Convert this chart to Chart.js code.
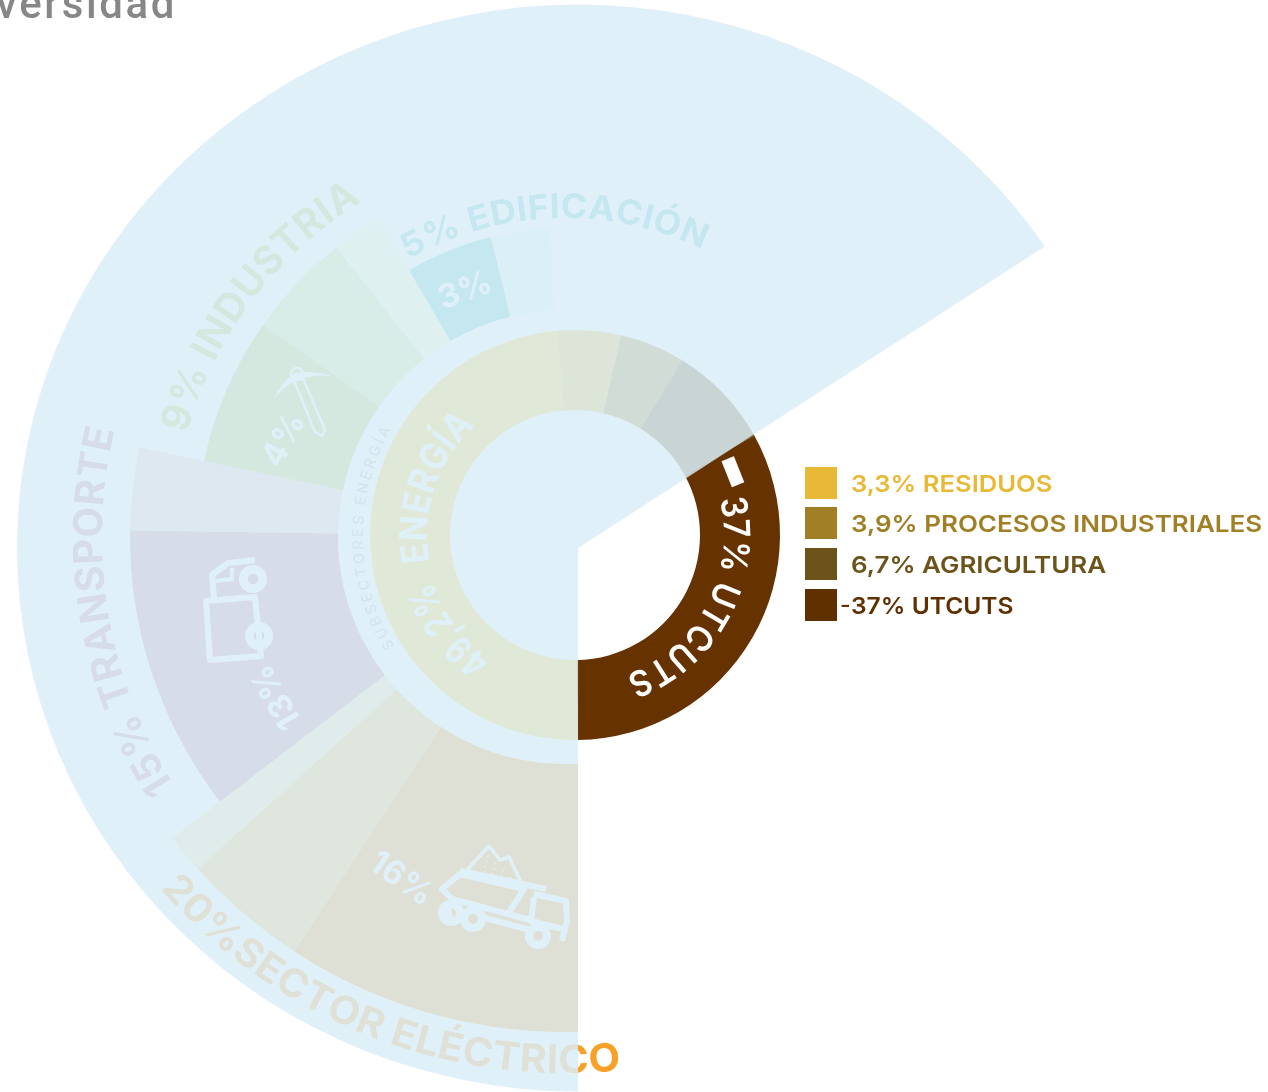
<!DOCTYPE html>
<html lang="es">
<head>
<meta charset="utf-8">
<title>Emisiones por sector</title>
<script src="https://cdn.jsdelivr.net/npm/chart.js@4"></script>
<style>
  html, body { margin: 0; height: 1092px; overflow: hidden; background: #fff; font-family: Inter, "Noto Sans", sans-serif; }
  canvas { position: absolute; }
  #sectoresChart { left: 65px; top: 37px; z-index: 1; clip-path: inset(0 487px 0 0); }
  #anilloChart { left: 0; top: 0; z-index: 2; }
  #veloChart { left: 28px; top: -2px; z-index: 3; transform: scaleX(1.0322); }
  #titulo { position: absolute; left: -4px; top: -19px; z-index: 4; font: 500 42px/46px Roboto, sans-serif; letter-spacing: 2.6px; color: #878787; }
  .fila { position: absolute; left: 805px; height: 32px; z-index: 4; white-space: nowrap; }
  .fila i { position: absolute; left: 0; top: 0; width: 32px; height: 32px; }
  .fila span { position: absolute; left: 46px; top: 0; font-weight: 600; font-size: 23.5px; line-height: 33px; transform-origin: left center; }
</style>
</head>
<body>
<div id="titulo">versidad</div>
<canvas id="sectoresChart" width="1000" height="1000"></canvas>
<canvas id="anilloChart" width="1268" height="1092"></canvas>
<canvas id="veloChart" width="1100" height="1100"></canvas>
<div id="leyenda"></div>

<script>
// Anillo interior: grados de cada tramo
const anilloNombres = ['Energía', 'Residuos', 'Procesos industriales', 'Agricultura', 'UTCUTS'];
const anilloGrados = [175.8, 18, 18.5, 29.5, 118.2];
const anilloColores = ['#facd28', '#e8b936', '#a07f26', '#6b5319', '#663300'];

// Subsectores de energia: grados y alcance radial de cada cuña
const subNombres = ['Electricidad 16%', 'Electricidad b', 'Electricidad c', 'Transporte 13%', 'Transporte b',
  'Industria 4%', 'Industria b', 'Industria c', 'Edificación 3%', 'Edificación b'];
const subGrados = [37.2, 14.7, 4.6, 38.4, 11, 23.2, 16.6, 8, 16.4, 11.1];
const subAlcance = [495, 495, 495, 435, 435, 369, 369, 369, 309, 309];
const subColores = ['#f59b1e', '#f5c150', '#ffe2a4', '#c18791', '#e8ceca', '#b5ce5d', '#cee290', '#f5fcc4', '#4dc2c4', '#dbf5f1'];

// Leyenda
const leyendaTextos = ['3,3% RESIDUOS', '3,9% PROCESOS INDUSTRIALES', '6,7% AGRICULTURA', '37% UTCUTS'];
const leyendaColores = ['#e8b936', '#a07f26', '#6b5319', '#5f3000'];
const leyendaY = [467, 507, 548, 589];
const leyendaEstira = [1.09, 1.105, 1.105, 1.045];

const CENTRO_ANILLO = { x: 575, y: 535 };
const CENTRO_SUB = { x: 565, y: 537 };

// Rotulos curvos; barrido en grados, giro en sentido horario salvo "interior"
const rotulos = [
  { t: '20%SECTOR ELÉCTRICO', c: CENTRO_SUB, r: 536, a: 201.5, barrido: 55, font: '700 39px Inter', color: '#f7a128', interior: true },
  { t: '15% TRANSPORTE', c: CENTRO_SUB, r: 463, a: 260.4, barrido: 46, font: '700 40px Inter', color: '#c18791' },
  { t: '9% INDUSTRIA', c: CENTRO_SUB, r: 392, a: 307, barrido: 43.5, font: '700 40px Inter', color: '#b5ce5d' },
  { t: '5% EDIFICACIÓN', c: CENTRO_SUB, r: 319, a: 358, barrido: 55, font: '700 34px Inter', color: '#4dc2c4' },
  { t: 'SUBSECTORES ENERGÍA', c: CENTRO_ANILLO, r: 212, a: 269, barrido: 61.5, font: '500 15px Inter', color: '#aab4aa', aire: 3 },
  { t: '49,2%', c: CENTRO_ANILLO, r: 150, a: 233, barrido: 38, font: '700 38px Inter', color: '#ffffff' },
  { t: 'ENERGÍA', c: CENTRO_ANILLO, r: 148, a: 288.5, barrido: 58, font: '700 38px Inter', color: '#ffffff' },
  { t: '37% UTCUTS', c: CENTRO_ANILLO, r: 149, a: 118, barrido: 84, font: '600 36px Inter', color: '#ffffff' },
  { t: '–', c: CENTRO_ANILLO, r: 144, a: 68.2, barrido: 0, font: '900 90px Inter', color: '#ffffff', estira: 0.62 }
];

// Rotulos rectos dentro de las cuñas
const rectos = [
  { t: '3%', x: 465, y: 291, giro: -20, font: '700 33px Inter' },
  { t: '4%', x: 284, y: 440, giro: -62, font: '700 33px Inter' },
  { t: '13%', x: 277, y: 697, giro: -120, font: '700 33px Inter' },
  { t: '16%', x: 401, y: 879, giro: 35, font: '700 33px Inter' }
];

function textoEnArco(ctx, cfg) {
  const chars = Array.from(cfg.t);
  ctx.font = cfg.font;
  ctx.fillStyle = cfg.color;
  ctx.textAlign = 'center';
  ctx.textBaseline = 'alphabetic';
  const anchos = chars.map(ch => ctx.measureText(ch).width);
  const suma = anchos.reduce((s, w) => s + w, 0);
  const aire = cfg.aire === undefined ? 0.5 : cfg.aire;
  const huecos = aire * (chars.length - 1);
  // Las letras se ensanchan o estrechan para llenar el arco, como en la fuente original
  const estira = cfg.estira || (cfg.barrido * Math.PI / 180 * cfg.r - huecos) / suma;
  const total = suma * estira + huecos;
  const medio = cfg.a * Math.PI / 180;
  const signo = cfg.interior ? -1 : 1;
  let pos = 0;
  chars.forEach((ch, i) => {
    const w = anchos[i] * estira;
    const th = medio + signo * (pos + w / 2 - total / 2) / cfg.r;
    ctx.save();
    ctx.translate(cfg.c.x + cfg.r * Math.sin(th), cfg.c.y - cfg.r * Math.cos(th));
    ctx.rotate(cfg.interior ? th - Math.PI : th);
    ctx.scale(estira, 1);
    ctx.fillText(ch, 0, 0);
    ctx.restore();
    pos += w + aire;
  });
}

function rueda(ctx, x, y, r) {
  ctx.save();
  ctx.lineWidth = r * 0.62;
  ctx.beginPath(); ctx.arc(x, y, r * 0.69, 0, Math.PI * 2); ctx.stroke();
  ctx.restore();
}

function linea(ctx, pts, cerrar) {
  ctx.beginPath();
  pts.forEach((p, i) => i ? ctx.lineTo(p[0], p[1]) : ctx.moveTo(p[0], p[1]));
  if (cerrar) ctx.closePath();
  ctx.stroke();
}

function iconoVolquete(ctx) {
  ctx.save();
  ctx.lineWidth = 6;
  linea(ctx, [[460, 874], [442, 889], [452, 899], [508, 914], [524, 889]], true);
  linea(ctx, [[460, 871], [546, 889]]);
  linea(ctx, [[534, 894], [566, 901], [567, 921], [562, 941]]);
  linea(ctx, [[534, 897], [531, 921], [563, 929]]);
  linea(ctx, [[524, 889], [508, 914], [530, 920]]);
  linea(ctx, [[485, 918], [534, 931]]);
  linea(ctx, [[447, 902], [450, 918]]);
  ctx.lineWidth = 3.5;
  linea(ctx, [[466, 871], [489, 846], [500, 860], [509, 857], [522, 884]]);
  for (let i = 0; i < 5; i++) {
    for (let j = 0; j <= i; j++) {
      ctx.beginPath();
      ctx.arc(488 + j * 9 - i * 1.5, 856 + i * 5.5 + j * 1.8, 1, 0, Math.PI * 2);
      ctx.fill();
    }
  }
  rueda(ctx, 451, 913, 13);
  rueda(ctx, 473, 919, 13);
  rueda(ctx, 538, 936, 13);
  ctx.restore();
}

function iconoCamion(ctx) {
  ctx.save();
  ctx.lineWidth = 6;
  linea(ctx, [[206, 601], [255, 597], [261, 656], [210, 660]], true);
  linea(ctx, [[214, 598], [212, 575], [228, 563], [255, 560]]);
  ctx.lineWidth = 4;
  linea(ctx, [[214, 581], [232, 579], [232, 568]]);
  rueda(ctx, 253, 579, 14);
  rueda(ctx, 259, 636, 14);
  ctx.restore();
}

function iconoPico(ctx) {
  ctx.save();
  ctx.beginPath();
  ctx.moveTo(274, 399);
  ctx.quadraticCurveTo(282, 381, 295, 373);
  ctx.quadraticCurveTo(313, 370, 331, 376);
  ctx.quadraticCurveTo(314, 374, 300, 380);
  ctx.quadraticCurveTo(284, 384, 274, 399);
  ctx.fill();
  ctx.lineWidth = 2.5;
  ctx.beginPath(); ctx.arc(297, 374, 6, 0, Math.PI * 2); ctx.stroke();
  linea(ctx, [[293, 378], [315, 432], [322, 436], [325, 430], [302, 376]]);
  ctx.restore();
}

const dibujarRotulos = {
  id: 'dibujarRotulos',
  afterDatasetsDraw(chart) {
    const ctx = chart.ctx;
    rotulos.forEach(r => textoEnArco(ctx, r));
    ctx.save();
    ctx.fillStyle = '#ffffff';
    ctx.strokeStyle = '#ffffff';
    ctx.lineJoin = 'round';
    ctx.textAlign = 'center';
    ctx.textBaseline = 'middle';
    rectos.forEach(r => {
      ctx.save();
      ctx.translate(r.x, r.y);
      ctx.rotate(r.giro * Math.PI / 180);
      ctx.font = r.font;
      ctx.fillText(r.t, 0, 0);
      ctx.restore();
    });
    iconoVolquete(ctx);
    iconoCamion(ctx);
    iconoPico(ctx);
    ctx.restore();
  }
};

const sinAdornos = { legend: { display: false }, tooltip: { enabled: false } };

function escalaRadial(maximo, inicio) {
  return {
    r: {
      min: 0, max: maximo, startAngle: inicio,
      ticks: { display: false },
      grid: { display: false },
      angleLines: { display: false },
      pointLabels: { display: false }
    }
  };
}

// Cuñas de subsectores, con el disco blanco que las recorta por dentro
new Chart(document.getElementById('sectoresChart'), {
  type: 'polarArea',
  data: {
    labels: subNombres,
    datasets: [
      { data: [227], angle: [360], backgroundColor: ['#ffffff'], borderWidth: 0 },
      { data: subAlcance, angle: subGrados, backgroundColor: subColores, borderWidth: 0 }
    ]
  },
  options: {
    responsive: false, animation: false,
    plugins: sinAdornos,
    scales: escalaRadial(500, 176)
  }
});

// Anillo interior con todos los rotulos
new Chart(document.getElementById('anilloChart'), {
  type: 'doughnut',
  data: {
    labels: anilloNombres,
    datasets: [{ data: anilloGrados, backgroundColor: anilloColores, borderWidth: 0 }]
  },
  options: {
    responsive: false, animation: false,
    rotation: 179.2,
    cutout: 125,
    layout: { padding: { left: 370, right: 488, top: 330, bottom: 352 } },
    plugins: sinAdornos
  },
  plugins: [dibujarRotulos]
});

// Velo azul translucido por encima de casi todo el grafico
new Chart(document.getElementById('veloChart'), {
  type: 'polarArea',
  data: {
    labels: ['velo'],
    datasets: [{ data: [543.5], angle: [236.3], backgroundColor: ['rgba(218,237,248,0.845)'], borderWidth: 0 }]
  },
  options: {
    responsive: false, animation: false,
    plugins: sinAdornos,
    scales: escalaRadial(550, 180)
  }
});

const leyenda = document.getElementById('leyenda');
leyendaTextos.forEach((texto, i) => {
  const fila = document.createElement('div');
  fila.className = 'fila';
  fila.style.top = leyendaY[i] + 'px';
  const marca = i === 3 ? '<b style="position:absolute;left:35px;top:0;font-weight:500;font-size:23px;line-height:33px;color:' + leyendaColores[i] + '">-</b>' : '';
  fila.innerHTML = '<i style="background:' + leyendaColores[i] + '"></i>' + marca +
    '<span style="color:' + leyendaColores[i] + ';transform:scaleX(' + leyendaEstira[i] + ')">' + texto + '</span>';
  leyenda.appendChild(fila);
});
</script>
</body>
</html>
